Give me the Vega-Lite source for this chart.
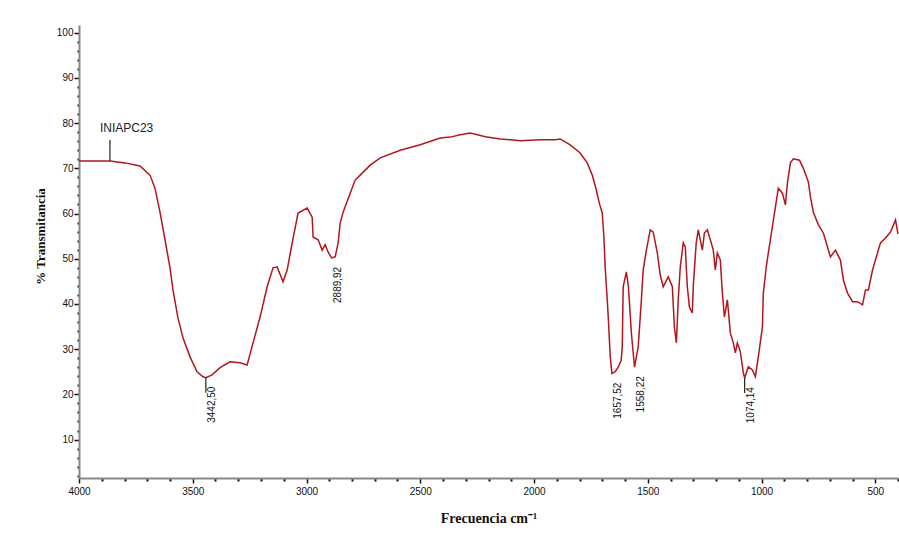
{
  "$schema": "https://vega.github.io/schema/vega-lite/v6.json",
  "width": 819,
  "height": 453,
  "autosize": {"type": "none"},
  "padding": {"left": 79, "top": 25, "right": 1, "bottom": 60},
  "background": "white",
  "config": {"view": {"stroke": null}},
  "datasets": {
    "spectrum": [
      {"wn": 4000, "T": 71.6}, {"wn": 3950, "T": 71.6}, {"wn": 3864, "T": 71.6}, {"wn": 3798, "T": 71.2},
      {"wn": 3732, "T": 70.5}, {"wn": 3688, "T": 68.5}, {"wn": 3666, "T": 65.6}, {"wn": 3644, "T": 60.3},
      {"wn": 3622, "T": 54.2}, {"wn": 3600, "T": 48.0}, {"wn": 3587, "T": 43.1}, {"wn": 3565, "T": 36.9},
      {"wn": 3543, "T": 32.5}, {"wn": 3512, "T": 28.3}, {"wn": 3481, "T": 25.0}, {"wn": 3455, "T": 23.9},
      {"wn": 3442.5, "T": 23.7}, {"wn": 3415, "T": 24.3}, {"wn": 3380, "T": 25.9}, {"wn": 3336, "T": 27.2},
      {"wn": 3292, "T": 27.0}, {"wn": 3261, "T": 26.5}, {"wn": 3235, "T": 31.4}, {"wn": 3204, "T": 37.1},
      {"wn": 3173, "T": 43.8}, {"wn": 3147, "T": 48.0}, {"wn": 3129, "T": 48.2}, {"wn": 3103, "T": 44.9},
      {"wn": 3085, "T": 47.5}, {"wn": 3063, "T": 53.5}, {"wn": 3037, "T": 60.1}, {"wn": 2997, "T": 61.2},
      {"wn": 2975, "T": 59.2}, {"wn": 2971, "T": 54.8}, {"wn": 2949, "T": 54.2}, {"wn": 2931, "T": 51.9},
      {"wn": 2918, "T": 53.1}, {"wn": 2905, "T": 51.5}, {"wn": 2890, "T": 50.2}, {"wn": 2874, "T": 50.4},
      {"wn": 2861, "T": 53.5}, {"wn": 2852, "T": 57.9}, {"wn": 2839, "T": 60.3}, {"wn": 2808, "T": 64.5},
      {"wn": 2786, "T": 67.4}, {"wn": 2764, "T": 68.5}, {"wn": 2720, "T": 70.7}, {"wn": 2676, "T": 72.3},
      {"wn": 2588, "T": 74.0}, {"wn": 2500, "T": 75.2}, {"wn": 2412, "T": 76.7}, {"wn": 2368, "T": 76.9},
      {"wn": 2324, "T": 77.4}, {"wn": 2280, "T": 77.8}, {"wn": 2214, "T": 77.0}, {"wn": 2148, "T": 76.5},
      {"wn": 2060, "T": 76.1}, {"wn": 1972, "T": 76.3}, {"wn": 1907, "T": 76.3}, {"wn": 1885, "T": 76.5},
      {"wn": 1841, "T": 75.2}, {"wn": 1797, "T": 73.4}, {"wn": 1766, "T": 71.2}, {"wn": 1744, "T": 68.5},
      {"wn": 1726, "T": 65.2}, {"wn": 1713, "T": 62.3}, {"wn": 1700, "T": 60.1}, {"wn": 1693, "T": 55.0},
      {"wn": 1687, "T": 48.0}, {"wn": 1678, "T": 40.9}, {"wn": 1673, "T": 36.5}, {"wn": 1665, "T": 28.5},
      {"wn": 1657.5, "T": 24.6}, {"wn": 1643, "T": 25.0}, {"wn": 1630, "T": 26.0}, {"wn": 1617, "T": 27.5},
      {"wn": 1612, "T": 30.5}, {"wn": 1608, "T": 43.8}, {"wn": 1594, "T": 47.1}, {"wn": 1585, "T": 43.8},
      {"wn": 1572, "T": 33.6}, {"wn": 1564, "T": 29.2}, {"wn": 1558.2, "T": 26.0}, {"wn": 1542, "T": 30.5},
      {"wn": 1528, "T": 40.9}, {"wn": 1520, "T": 47.5}, {"wn": 1506, "T": 51.9}, {"wn": 1489, "T": 56.4},
      {"wn": 1476, "T": 55.9}, {"wn": 1458, "T": 51.3}, {"wn": 1445, "T": 46.4}, {"wn": 1432, "T": 43.8},
      {"wn": 1410, "T": 46.0}, {"wn": 1392, "T": 43.8}, {"wn": 1383, "T": 34.9}, {"wn": 1374, "T": 31.4},
      {"wn": 1366, "T": 40.9}, {"wn": 1357, "T": 48.2}, {"wn": 1344, "T": 53.5}, {"wn": 1335, "T": 52.6},
      {"wn": 1330, "T": 47.5}, {"wn": 1326, "T": 43.8}, {"wn": 1317, "T": 39.3}, {"wn": 1304, "T": 38.0},
      {"wn": 1300, "T": 43.8}, {"wn": 1287, "T": 53.5}, {"wn": 1278, "T": 56.4}, {"wn": 1260, "T": 51.9},
      {"wn": 1251, "T": 55.7}, {"wn": 1238, "T": 56.4}, {"wn": 1225, "T": 54.2}, {"wn": 1212, "T": 51.9},
      {"wn": 1203, "T": 47.5}, {"wn": 1194, "T": 51.3}, {"wn": 1181, "T": 49.7}, {"wn": 1172, "T": 42.4},
      {"wn": 1163, "T": 37.1}, {"wn": 1150, "T": 40.9}, {"wn": 1146, "T": 38.7}, {"wn": 1137, "T": 33.6},
      {"wn": 1124, "T": 31.4}, {"wn": 1115, "T": 29.2}, {"wn": 1106, "T": 31.4}, {"wn": 1093, "T": 29.4},
      {"wn": 1080, "T": 24.8}, {"wn": 1074.1, "T": 23.6}, {"wn": 1058, "T": 26.1}, {"wn": 1040, "T": 25.4},
      {"wn": 1027, "T": 23.9}, {"wn": 1014, "T": 28.3}, {"wn": 996, "T": 34.9}, {"wn": 992, "T": 42.4},
      {"wn": 979, "T": 48.2}, {"wn": 970, "T": 51.3}, {"wn": 961, "T": 54.2}, {"wn": 939, "T": 61.4},
      {"wn": 926, "T": 65.6}, {"wn": 908, "T": 64.5}, {"wn": 895, "T": 61.9}, {"wn": 886, "T": 66.8},
      {"wn": 873, "T": 71.2}, {"wn": 860, "T": 72.1}, {"wn": 833, "T": 71.8}, {"wn": 816, "T": 70.0},
      {"wn": 794, "T": 67.0}, {"wn": 785, "T": 63.7}, {"wn": 772, "T": 60.3}, {"wn": 750, "T": 57.5},
      {"wn": 728, "T": 55.7}, {"wn": 697, "T": 50.4}, {"wn": 675, "T": 51.9}, {"wn": 653, "T": 49.7},
      {"wn": 640, "T": 45.3}, {"wn": 622, "T": 42.4}, {"wn": 600, "T": 40.5}, {"wn": 578, "T": 40.5},
      {"wn": 556, "T": 39.8}, {"wn": 543, "T": 43.1}, {"wn": 530, "T": 43.1}, {"wn": 512, "T": 47.5},
      {"wn": 490, "T": 51.3}, {"wn": 477, "T": 53.5}, {"wn": 455, "T": 54.6}, {"wn": 433, "T": 55.9},
      {"wn": 411, "T": 58.6}, {"wn": 400, "T": 55.5}
    ],
    "peaks": [
      {"wn": 3442.5, "T": 23.7, "label": "3442,50", "tick": true},
      {"wn": 2889.92, "T": 50.2, "label": "2889,92", "tick": false},
      {"wn": 1657.52, "T": 24.6, "label": "1657,52", "tick": false},
      {"wn": 1558.22, "T": 26.0, "label": "1558,22", "tick": false},
      {"wn": 1074.14, "T": 23.6, "label": "1074,14", "tick": true}
    ],
    "sample": [
      {"wn": 3864, "T": 71.6, "label": "INIAPC23"}
    ]
  },
  "resolve": {"axis": {"x": "independent", "y": "independent"}},
  "layer": [
    {
      "data": {"name": "spectrum"},
      "mark": {"type": "line", "strokeOpacity": 0},
      "encoding": {
        "x": {
          "field": "wn", "type": "quantitative",
          "scale": {"domain": [400, 4000], "reverse": true, "nice": false, "zero": false},
          "axis": {
            "orient": "bottom",
            "title": null,
            "values": [400, 600, 700, 800, 900, 1100, 1200, 1300, 1400, 1600, 1700, 1800, 1900, 2100, 2200, 2300, 2400, 2600, 2700, 2800, 2900, 3100, 3200, 3300, 3400, 3600, 3700, 3800, 3900],
            "labels": false,
            "domain": false,
            "grid": false,
            "tickSize": 3,
            "tickColor": "#111",
            "tickWidth": 2
          }
        },
        "y": {
          "field": "T", "type": "quantitative",
          "scale": {"domain": [1.5, 101.7], "nice": false, "zero": false},
          "axis": {
            "orient": "left",
            "title": null,
            "values": [2, 4, 6, 8, 12, 14, 16, 18, 22, 24, 26, 28, 32, 34, 36, 38, 42, 44, 46, 48, 52, 54, 56, 58, 62, 64, 66, 68, 72, 74, 76, 78, 82, 84, 86, 88, 92, 94, 96, 98],
            "labels": false,
            "domain": false,
            "grid": false,
            "tickSize": 2,
            "tickColor": "#111",
            "tickWidth": 2
          }
        }
      }
    },
    {
      "data": {"name": "spectrum"},
      "mark": {"type": "line", "color": "#b3161c", "strokeWidth": 1.5, "interpolate": "linear"},
      "encoding": {
        "x": {
          "field": "wn", "type": "quantitative",
          "axis": {
            "orient": "bottom",
            "title": "Frecuencia cm⁻¹",
            "values": [500, 1000, 1500, 2000, 2500, 3000, 3500, 4000],
            "format": "d",
            "labelOverlap": false,
            "labelFlush": false,
            "labelFont": "Liberation Sans",
            "labelFontSize": 10,
            "labelColor": "#111",
            "labelPadding": 3,
            "tickSize": 5,
            "tickColor": "#111",
            "tickWidth": 1.5,
            "domainColor": "#888",
            "domainWidth": 2,
            "grid": false,
            "titleFont": "Liberation Serif",
            "titleFontWeight": "bold",
            "titleFontSize": 14,
            "titleColor": "#111",
            "titleBaseline": "middle",
            "titleY": 40
          }
        },
        "y": {
          "field": "T", "type": "quantitative",
          "axis": {
            "orient": "left",
            "title": "% Transmitancia",
            "values": [10, 20, 30, 40, 50, 60, 70, 80, 90, 100],
            "labelOverlap": false,
            "labelFlush": false,
            "labelFont": "Liberation Sans",
            "labelFontSize": 10,
            "labelColor": "#111",
            "labelPadding": 1,
            "tickSize": 5,
            "tickColor": "#111",
            "tickWidth": 1.5,
            "domainColor": "#888",
            "domainWidth": 2,
            "grid": false,
            "titleFont": "Liberation Serif",
            "titleFontWeight": "bold",
            "titleFontSize": 13,
            "titleColor": "#111",
            "titleBaseline": "middle",
            "titleAlign": "center",
            "titleX": -39,
            "titleY": 211
          }
        }
      }
    },
    {
      "data": {"name": "peaks"},
      "transform": [{"filter": "datum.tick"}],
      "mark": {"type": "rule", "color": "#222", "strokeWidth": 1.2, "y2Offset": 15},
      "encoding": {
        "x": {"field": "wn", "type": "quantitative", "axis": null},
        "y": {"field": "T", "type": "quantitative", "axis": null},
        "y2": {"field": "T"}
      }
    },
    {
      "data": {"name": "peaks"},
      "mark": {"type": "text", "angle": 270, "align": "right", "baseline": "middle", "dx": -9, "dy": 6, "font": "Liberation Sans", "fontSize": 10, "color": "#111"},
      "encoding": {
        "x": {"field": "wn", "type": "quantitative", "axis": null},
        "y": {"field": "T", "type": "quantitative", "axis": null},
        "text": {"field": "label"}
      }
    },
    {
      "data": {"name": "sample"},
      "mark": {"type": "rule", "color": "#222", "strokeWidth": 1.2, "y2Offset": -21},
      "encoding": {
        "x": {"field": "wn", "type": "quantitative", "axis": null},
        "y": {"field": "T", "type": "quantitative", "axis": null},
        "y2": {"field": "T"}
      }
    },
    {
      "data": {"name": "sample"},
      "mark": {"type": "text", "align": "left", "baseline": "middle", "dx": -10, "dy": -33, "font": "Liberation Sans", "fontSize": 12, "color": "#222"},
      "encoding": {
        "x": {"field": "wn", "type": "quantitative", "axis": null},
        "y": {"field": "T", "type": "quantitative", "axis": null},
        "text": {"field": "label"}
      }
    }
  ]
}
